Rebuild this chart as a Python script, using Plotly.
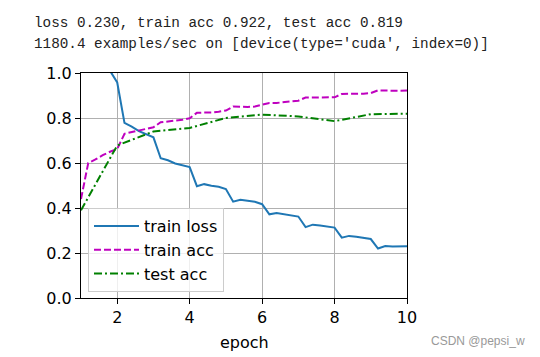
import plotly.graph_objects as go

# ---- data ----
batch_x = [1.0, 1.2, 1.4, 1.6, 1.8, 2.0, 2.2, 2.4, 2.6, 2.8, 3.0, 3.2, 3.4, 3.6, 3.8,
           4.0, 4.2, 4.4, 4.6, 4.8, 5.0, 5.2, 5.4, 5.6, 5.8, 6.0, 6.2, 6.4, 6.6, 6.8,
           7.0, 7.2, 7.4, 7.6, 7.8, 8.0, 8.2, 8.4, 8.6, 8.8, 9.0, 9.2, 9.4, 9.6, 9.8, 10.0]
train_loss = [1.45, 1.25, 1.13, 1.06, 1.01, 0.958, 0.778, 0.762, 0.742, 0.728, 0.714,
              0.621, 0.612, 0.598, 0.590, 0.582, 0.497, 0.506, 0.499, 0.494, 0.484,
              0.428, 0.437, 0.431, 0.428, 0.417, 0.372, 0.378, 0.373, 0.369, 0.362,
              0.315, 0.326, 0.322, 0.318, 0.313, 0.268, 0.276, 0.272, 0.268, 0.262,
              0.220, 0.231, 0.229, 0.229, 0.230]
train_acc = [0.44, 0.600, 0.616, 0.635, 0.650, 0.662, 0.730, 0.737, 0.745, 0.752, 0.759,
             0.781, 0.784, 0.788, 0.792, 0.799, 0.823, 0.824, 0.824, 0.828, 0.833,
             0.851, 0.849, 0.849, 0.851, 0.858, 0.867, 0.867, 0.870, 0.871, 0.877,
             0.891, 0.891, 0.891, 0.891, 0.892, 0.907, 0.907, 0.907, 0.908, 0.911,
             0.923, 0.922, 0.920, 0.921, 0.922]
epoch_x = [1, 2, 3, 4, 5, 6, 7, 8, 9, 10]
test_acc = [0.39, 0.678, 0.740, 0.756, 0.800, 0.815, 0.807, 0.786, 0.817, 0.819]

x_ticks = [2, 4, 6, 8, 10]
y_ticks = [0.0, 0.2, 0.4, 0.6, 0.8, 1.0]

x_label = "epoch"
header_lines = ["loss 0.230, train acc 0.922, test acc 0.819",
                "1180.4 examples/sec on [device(type='cuda', index=0)]"]
watermark = "CSDN @pepsi_w"

# ---- layout geometry (pixels) ----
W, H = 540, 357
L, R, T, B = 81, 407, 73, 298


def px2paper_x(px):
    return (px - L) / (R - L)


def px2paper_y(py):
    return (B - py) / (B - T)


FONT = "DejaVu Sans"

fig = go.Figure()
fig.add_trace(go.Scatter(x=batch_x, y=train_loss, mode="lines", name="train loss",
                         line=dict(color="#1f77b4", width=2)))
fig.add_trace(go.Scatter(x=batch_x, y=train_acc, mode="lines", name="train acc",
                         line=dict(color="#bf00bf", width=2, dash="7px,3px")))
fig.add_trace(go.Scatter(x=epoch_x, y=test_acc, mode="lines", name="test acc",
                         line=dict(color="#008000", width=2, dash="8px,3px,2px,3px")))

axis_common = dict(showline=True, linecolor="black", linewidth=1, mirror=True,
                   ticks="outside", ticklen=5, tickwidth=1, tickcolor="black",
                   showgrid=True, gridcolor="#b0b0b0", gridwidth=1, zeroline=False,
                   automargin=False,
                   tickfont=dict(family=FONT, size=16, color="black"))

fig.update_xaxes(range=[1, 10], tickvals=x_ticks, ticktext=[str(v) for v in x_ticks],
                 **axis_common)
fig.update_yaxes(range=[0, 1], tickvals=y_ticks, ticktext=[f"{v:.1f}" for v in y_ticks],
                 **axis_common)

annotations = []
for i, line in enumerate(header_lines):
    annotations.append(dict(text=line, xref="paper", yref="paper",
                            x=px2paper_x(32), y=px2paper_y(23 + 21.5 * i),
                            xanchor="left", yanchor="middle", showarrow=False,
                            font=dict(family="Liberation Mono", size=14.3, color="#222222")))
annotations.append(dict(text=x_label, xref="paper", yref="paper",
                        x=0.5, y=px2paper_y(342), xanchor="center", yanchor="middle",
                        showarrow=False,
                        font=dict(family=FONT, size=16, color="black")))
annotations.append(dict(text=watermark, xref="paper", yref="paper",
                        x=px2paper_x(527), y=px2paper_y(341), xanchor="right", yanchor="middle",
                        showarrow=False,
                        font=dict(family="Liberation Sans", size=12, color="#999999")))

fig.update_layout(
    width=W, height=H, autosize=False,
    margin=dict(l=L, r=W - R, t=T, b=H - B, pad=0),
    paper_bgcolor="white", plot_bgcolor="white",
    showlegend=True,
    legend=dict(x=px2paper_x(88), y=px2paper_y(292), xanchor="left", yanchor="bottom",
                bgcolor="rgba(255,255,255,0.8)", bordercolor="#cccccc", borderwidth=1,
                font=dict(family=FONT, size=16, color="black"),
                itemwidth=45),
    annotations=annotations,
)

fig.write_html("out.html", config={"displayModeBar": False},
               post_script="document.body.style.margin='0';document.body.style.padding='0';")
